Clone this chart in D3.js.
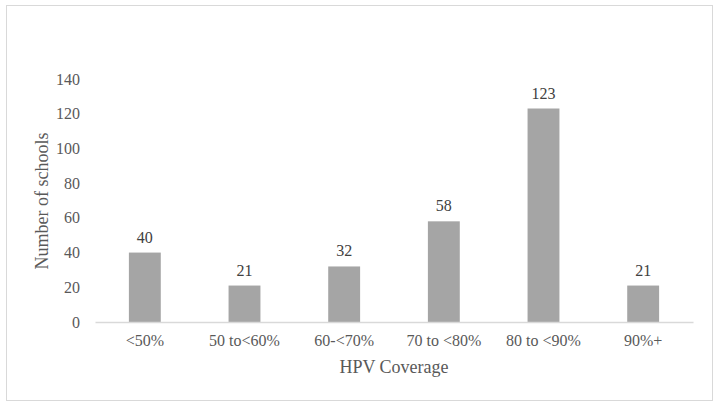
<!DOCTYPE html>
<html><head><meta charset="utf-8">
<script src="https://cdn.jsdelivr.net/npm/d3@7"></script>
<style>body{margin:0;background:#fff}svg{display:block}svg text{font-family:"Liberation Serif","Times New Roman",serif !important}</style>
</head><body><svg id="c" width="721" height="406"></svg>
<script>
const categories = ["<50%", "50 to<60%", "60-<70%", "70 to <80%", "80 to <90%", "90%+"];
const values = [40, 21, 32, 58, 123, 21];
const yTicks = [0, 20, 40, 60, 80, 100, 120, 140];
const xTitle = "HPV Coverage";
const yTitle = "Number of schools";

const svg = d3.select("#c");
const textColor = "#595959";
svg.append("rect").attr("x", 6.5).attr("y", 5.5).attr("width", 706).attr("height", 395)
  .attr("fill", "#fff").attr("stroke", "#d9d9d9").attr("stroke-width", 1);

const x = d3.scaleBand().domain(categories).range([95, 693]).paddingInner(0.68).paddingOuter(0.34);
const y = d3.scaleLinear().domain([0, 140]).range([322, 79]);

// y tick labels
const yAxis = svg.append("g").attr("transform", "translate(95,0)")
  .call(d3.axisLeft(y).tickValues(yTicks).tickSize(0).tickPadding(15));
yAxis.select(".domain").remove();
yAxis.selectAll("text").attr("font-size", 16).attr("fill", textColor);

// bars
svg.append("g").selectAll("rect").data(values).join("rect")
  .attr("x", (d, i) => x(categories[i])).attr("width", x.bandwidth())
  .attr("y", d => y(d)).attr("height", d => y(0) - y(d)).attr("fill", "#a5a5a5");

// x axis
const xAxis = svg.append("g").attr("transform", `translate(0,${y(0)})`)
  .call(d3.axisBottom(x).tickSize(0).tickPadding(13));
xAxis.select(".domain").attr("stroke", "#d9d9d9").attr("stroke-width", 1.5);
xAxis.selectAll("text").attr("font-size", 16).attr("fill", textColor);

// value labels
svg.append("g").selectAll("text").data(values).join("text")
  .attr("x", (d, i) => x(categories[i]) + x.bandwidth() / 2)
  .attr("y", d => y(d) - 10)
  .attr("text-anchor", "middle").attr("font-size", 16)
  .attr("fill", "#404040").text(d => d);

// titles
svg.append("text").attr("x", 394).attr("y", 373).attr("text-anchor", "middle")
  .attr("font-size", 18).attr("fill", textColor).text(xTitle);
svg.append("text").attr("transform", "translate(48,201) rotate(-90)").attr("text-anchor", "middle")
  .attr("font-size", 18).attr("fill", textColor).text(yTitle);
</script></body></html>
